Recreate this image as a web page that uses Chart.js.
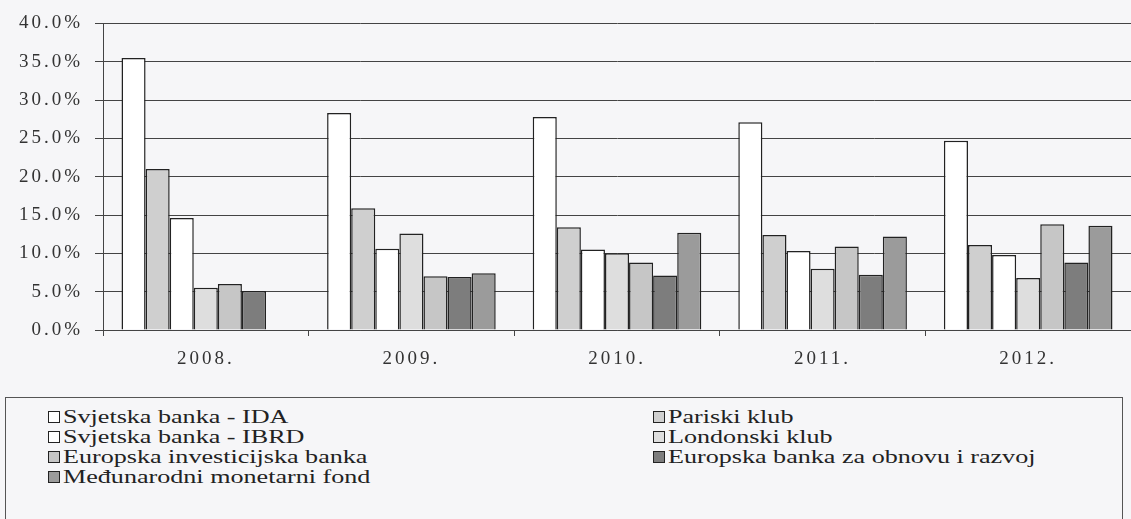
<!DOCTYPE html>
<html>
<head>
<meta charset="utf-8">
<script src="https://cdn.jsdelivr.net/npm/chart.js@4.4.1/dist/chart.umd.min.js"></script>
<style>
    body { margin: 0; background: #f6f6f8; overflow: hidden; }
    #wrap { position: relative; width: 1131px; height: 519px; }
    #chartBox { position: absolute; left: 0; top: 0; width: 1131px; height: 385px; }
    #legend {
        position: absolute; left: 5px; top: 397px; width: 1118px; height: 140px;
        border: 1px solid #555; box-sizing: border-box;
        display: grid; grid-template-columns: 605px 500px; grid-auto-rows: 20px;
        padding: 9px 0 0 42px;
        font-family: "Liberation Serif", "Times New Roman", "DejaVu Serif", serif;
        font-size: 18px; color: #222;
    }
    .item { display: flex; align-items: center; white-space: nowrap; }
    .swatch { width: 10px; height: 10px; border: 1.5px solid #222; margin-right: 3px; flex: none; }
    .txt { display: inline-block; transform: scaleX(1.45); transform-origin: left center; }
</style>
</head>
<body>
<div id="wrap">
    <div id="chartBox"><canvas id="debtChart"></canvas></div>
    <div id="legend"></div>
</div>
<script>
const categories = ['2008.', '2009.', '2010.', '2011.', '2012.'];

// share of each creditor, in %
const seriesNames = [
    'Svjetska banka - IDA',
    'Pariski klub',
    'Svjetska banka - IBRD',
    'Londonski klub',
    'Europska investicijska banka',
    'Europska banka za obnovu i razvoj',
    'Međunarodni monetarni fond'
];
const ida = [35.5, 28.3, 27.8, 27.1, 24.7];
const pariski = [21.0, 15.9, 13.4, 12.4, 11.1];
const ibrd = [14.6, 10.6, 10.5, 10.3, 9.8];
const londonski = [5.5, 12.6, 10.0, 8.0, 6.8];
const eib = [6.0, 7.0, 8.8, 10.9, 13.8];
const ebrd = [5.1, 6.9, 7.1, 7.2, 8.8];
const mmf = [null, 7.4, 12.7, 12.2, 13.6];

const seriesValues = [ida, pariski, ibrd, londonski, eib, ebrd, mmf];
const seriesColors = ['#ffffff', '#cfcfcf', '#ffffff', '#dedede', '#c6c6c6', '#7d7d7d', '#9b9b9b'];

const serif = '"Liberation Serif", "Times New Roman", "DejaVu Serif", serif';

const datasets = seriesNames.map((name, i) => ({
    label: name,
    data: seriesValues[i],
    backgroundColor: seriesColors[i],
    borderColor: '#222',
    borderWidth: 1.5,
    barPercentage: 1,
    categoryPercentage: 0.82
}));

// wider lettering for the axis labels, like the scanned original
const spacing = {
    id: 'spacing',
    beforeDraw(chart) {
        chart.ctx.letterSpacing = '3px';
    }
};

const config = {
    type: 'bar',
    data: { labels: categories, datasets: datasets },
    plugins: [spacing],
    options: {
        responsive: true,
        maintainAspectRatio: false,
        animation: false,
        layout: { padding: { top: 20, left: 0, right: 0, bottom: 0 } },
        plugins: { legend: { display: false }, tooltip: { enabled: false } },
        scales: {
            x: {
                grid: { display: true, drawOnChartArea: false, offset: true, tickLength: 6, color: '#444' },
                border: { display: true, color: '#444', width: 1 },
                ticks: { color: '#333', font: { family: serif, size: 19 }, padding: 12 },
                afterFit: s => { s.height = 55; }
            },
            y: {
                min: 0,
                max: 40,
                ticks: {
                    stepSize: 5,
                    color: '#333',
                    font: { family: serif, size: 19 },
                    padding: 12,
                    callback: v => v.toFixed(1) + '%'
                },
                grid: { color: '#444', lineWidth: 1, tickLength: 8 },
                border: { display: true, color: '#444', width: 1 },
                afterFit: s => { s.width = 103; }
            }
        }
    }
};

const myChart = new Chart(document.getElementById('debtChart'), config);

// legend laid out in two columns, row by row
const legend = document.getElementById('legend');
for (let i = 0; i < seriesNames.length; i++) {
    const div = document.createElement('div');
    div.className = 'item';
    div.innerHTML = `<span class="swatch" style="background:${seriesColors[i]}"></span><span class="txt">${seriesNames[i]}</span>`;
    legend.appendChild(div);
}
</script>
</body>
</html>
